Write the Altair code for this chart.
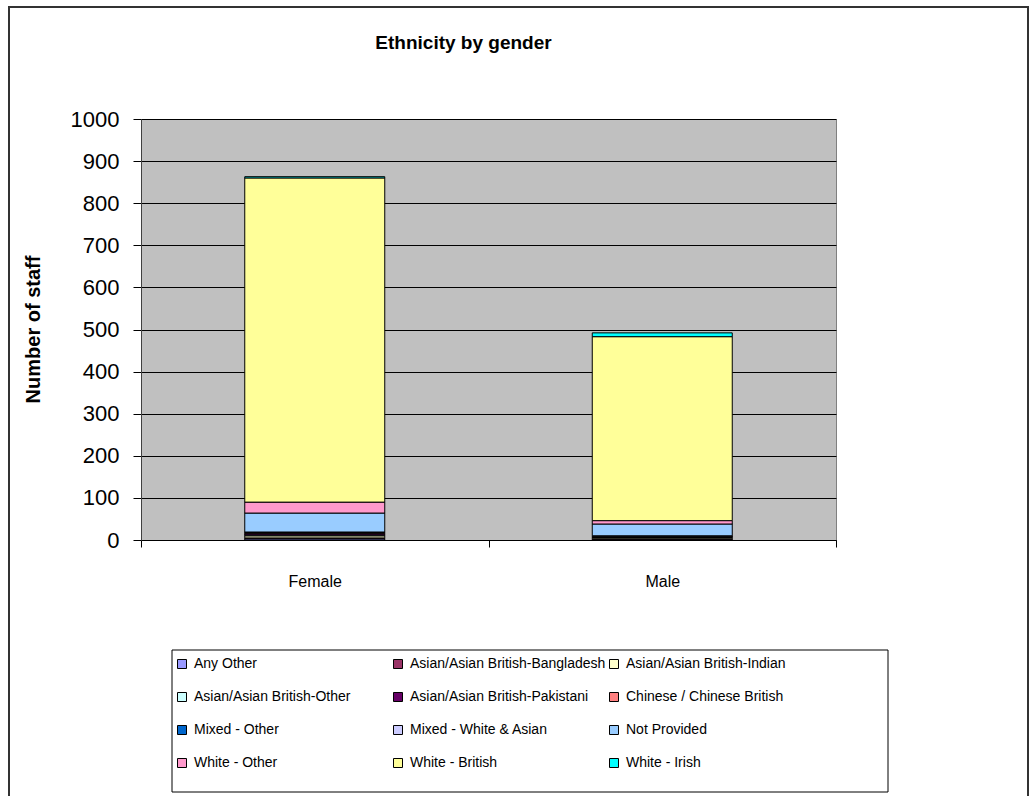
import altair as alt
import pandas as pd

genders = ["Female", "Male"]
ethnicities = [
    "Any Other",
    "Asian/Asian British-Bangladesh",
    "Asian/Asian British-Indian",
    "Asian/Asian British-Other",
    "Asian/Asian British-Pakistani",
    "Chinese / Chinese British",
    "Mixed - Other",
    "Mixed - White & Asian",
    "Not Provided",
    "White - Other",
    "White - British",
    "White - Irish",
]
female_counts = [3, 2, 5, 2, 3, 2, 1, 1, 45, 26, 770, 3]
male_counts = [2, 1, 3, 1, 1, 1, 0, 1, 28, 8, 437, 9]
colors = [
    "#9999FF", "#993366", "#FFFFCC", "#CCFFFF", "#660066", "#FF8080",
    "#0066CC", "#CCCCFF", "#99CCFF", "#FF99CC", "#FFFF99", "#00FFFF",
]
y_ticks = [0, 100, 200, 300, 400, 500, 600, 700, 800, 900, 1000]

rows = []
for g, counts in zip(genders, [female_counts, male_counts]):
    for i, (e, v) in enumerate(zip(ethnicities, counts)):
        rows.append({"gender": g, "ethnicity": e, "count": v, "order": i})
df = pd.DataFrame(rows)

FONT = "Liberation Sans"

bars = alt.Chart(df).mark_bar(size=140, stroke="black", strokeWidth=1).encode(
    x=alt.X(
        "gender:N",
        sort=genders,
        scale=alt.Scale(paddingInner=0, paddingOuter=0),
        axis=alt.Axis(
            title=None, labelAngle=0, labelFontSize=16, labelFont=FONT,
            labelColor="black", labelPadding=26, tickBand="extent",
            tickSize=7, tickColor="black", domainColor="black", grid=False,
        ),
    ),
    y=alt.Y(
        "count:Q",
        stack="zero",
        scale=alt.Scale(domain=[0, 1000], nice=False),
        axis=alt.Axis(
            values=y_ticks, format="d", title="Number of staff", titleFont=FONT,
            titleFontSize=20, titleFontWeight="bold", titleColor="black",
            titleX=-108, titleY=210, titleAlign="center", titleBaseline="middle",
            titleAngle=270, labelFontSize=22, labelFont=FONT, labelColor="black",
            labelPadding=14, tickSize=8, tickColor="black", domainColor="#404040",
            gridColor="black", gridWidth=1,
        ),
    ),
    color=alt.Color(
        "ethnicity:N",
        scale=alt.Scale(domain=ethnicities, range=colors),
        legend=alt.Legend(
            title=None, orient="none", legendX=34, legendY=538, columns=3,
            direction="horizontal", gridAlign="all", symbolType="square",
            symbolSize=81, symbolStrokeColor="black", symbolStrokeWidth=1,
            symbolOpacity=1, labelFont=FONT, labelFontSize=14, labelColor="black",
            labelOffset=5, columnPadding=1, rowPadding=19, padding=0,
            labelLimit=300,
        ),
    ),
    order=alt.Order("order:Q", sort="ascending"),
)

frame = alt.Chart(pd.DataFrame({"a": [0]})).mark_rect(
    filled=False, stroke="#333333", strokeWidth=2
).encode(
    x=alt.value(-132), x2=alt.value(887), y=alt.value(-112), y2=alt.value(700)
)

legend_box = alt.Chart(pd.DataFrame({"a": [0]})).mark_rect(
    filled=False, stroke="black", strokeWidth=1
).encode(
    x=alt.value(31), x2=alt.value(747), y=alt.value(531), y2=alt.value(673)
)

chart = alt.layer(bars, frame, legend_box).properties(
    width=695,
    height=421,
    padding={"left": 141, "top": 119, "right": 199, "bottom": 256},
    autosize=alt.AutoSizeParams(type="none"),
    background="white",
    title=alt.TitleParams(
        "Ethnicity by gender", font=FONT, fontSize=19, fontWeight="bold",
        color="black", frame="group", anchor="middle", baseline="middle",
        offset=0, dx=-25, dy=56,
    ),
).configure_view(
    fill="#C0C0C0", stroke="#808080", strokeWidth=1
)

chart.save("out.html", embed_options={"renderer": "svg", "actions": False})
